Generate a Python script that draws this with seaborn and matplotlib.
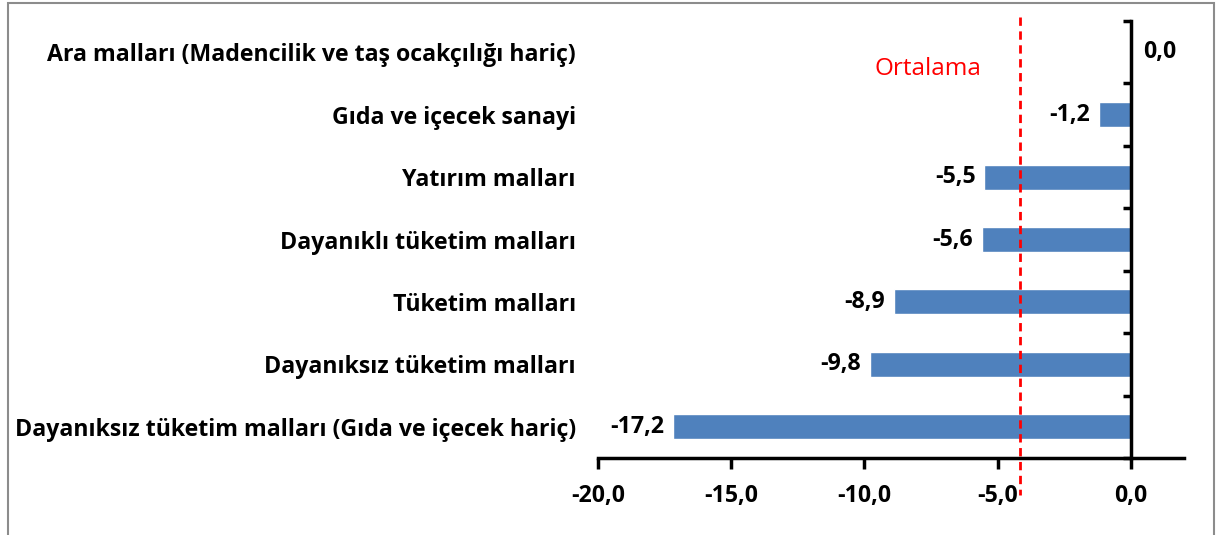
import numpy as np
import seaborn as sns
import matplotlib.pyplot as plt
from matplotlib.patches import Rectangle
from matplotlib.ticker import FuncFormatter
import matplotlib.transforms as mtransforms

# veriler
categories = [
    "Ara malları (Madencilik ve taş ocakçılığı hariç)",
    "Gıda ve içecek sanayi",
    "Yatırım malları",
    "Dayanıklı tüketim malları",
    "Tüketim malları",
    "Dayanıksız tüketim malları",
    "Dayanıksız tüketim malları (Gıda ve içecek hariç)",
]
values = [0.0, -1.2, -5.5, -5.6, -8.9, -9.8, -17.2]
mean_value = -4.17
mean_label = "Ortalama"
x_ticks = [-20, -15, -10, -5, 0]

sns.set_style("white")
plt.rcParams["font.family"] = ["Open Sans", "DejaVu Sans"]
plt.rcParams["axes.unicode_minus"] = False
plt.rcParams["text.color"] = "black"
plt.rcParams["xtick.color"] = "black"
plt.rcParams["ytick.color"] = "black"

FS = 16.7

def fmt(v):
    return f"{v:.1f}".replace(".", ",")

fig = plt.figure(figsize=(12.19, 5.35), dpi=100)
ax = fig.add_axes([598 / 1219, 1 - 458 / 535, (1184 - 598) / 1219, (458 - 21) / 535])

sns.barplot(x=values, y=categories, orient="h", color="#4F81BD", width=0.4,
            saturation=1, ax=ax)
ax.set_xlim(-20, 2)
ax.set_ylim(6.5, -0.5)
ax.set_ylabel("")
ax.set_xlabel("")

# eksenler
for s in ["top", "left"]:
    ax.spines[s].set_visible(False)
ax.spines["right"].set_position(("data", 0))
ax.spines["right"].set_linewidth(2.5)
ax.spines["bottom"].set_linewidth(2.5)
ax.spines["right"].set_color("black")
ax.spines["bottom"].set_color("black")

ax.set_xticks(x_ticks)
ax.xaxis.set_major_formatter(FuncFormatter(lambda v, p: fmt(v)))
ax.tick_params(axis="x", bottom=True, direction="out", length=8, width=2.5,
               labelsize=FS, pad=11)
ax.set_yticks(np.arange(-0.5, len(categories), 1), minor=True)
ax.tick_params(axis="y", which="major", length=0, left=False, right=False,
               labelleft=True, labelsize=FS, pad=16)
ax.tick_params(axis="y", which="minor", left=False, right=True, direction="in",
               length=6, width=2.5)
for lbl in ax.get_xticklabels() + ax.get_yticklabels():
    lbl.set_fontweight("bold")
    lbl.set_color("black")

# değer etiketleri
for i, v in enumerate(values):
    if v < 0:
        ax.annotate(fmt(v), (v, i), xytext=(-6, 0), textcoords="offset points",
                    ha="right", va="center", fontsize=FS, fontweight="bold")
    else:
        ax.annotate(fmt(v), (v, i), xytext=(9, 0), textcoords="offset points",
                    ha="left", va="center", fontsize=FS, fontweight="bold")

# ortalama çizgisi
trans = mtransforms.blended_transform_factory(ax.transData, ax.transAxes)
ax.plot([mean_value, mean_value], [1.009, -0.085], transform=trans, color="red",
        linestyle=(0, (3, 2)), linewidth=2, clip_on=False)
ax.text(mean_value - 3.45, 0.27, mean_label, color="red", fontsize=17.5,
        ha="center", va="center")

fig.patches.append(Rectangle((8 / 1219, -0.1), (1214 - 8) / 1219, 1.1 - 3 / 535,
                             transform=fig.transFigure, fill=False,
                             edgecolor="#8c8c8c", linewidth=1.5))

fig.savefig("out.png", dpi=100)
